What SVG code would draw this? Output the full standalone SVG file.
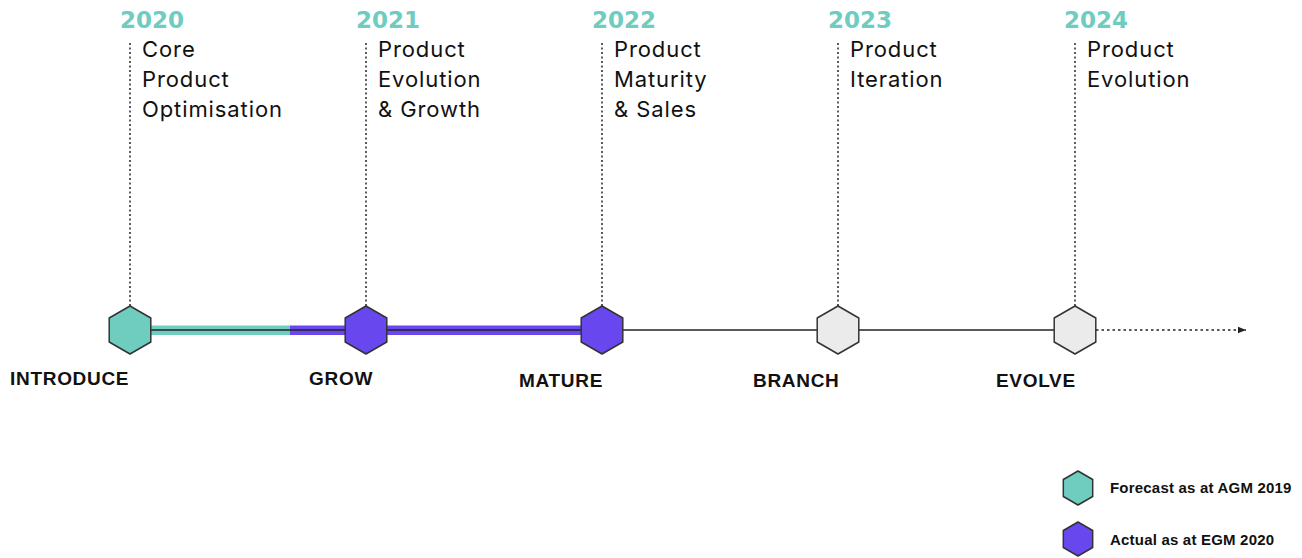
<svg xmlns="http://www.w3.org/2000/svg" width="1302" height="558" viewBox="0 0 1302 558">
<style>
.year{font-family:"DejaVu Sans","Liberation Sans",sans-serif;font-weight:bold;font-size:23px;fill:#6ECDBF}
.desc{font-family:Inter,"Liberation Sans",sans-serif;font-size:22px;fill:#111;letter-spacing:0.9px}
.stage{font-family:"Liberation Sans",Arial,sans-serif;font-weight:bold;font-size:19px;fill:#111;letter-spacing:0.7px}
.leg{font-family:"Liberation Sans",Arial,sans-serif;font-weight:bold;font-size:15px;fill:#111;letter-spacing:0.2px}
.vdot{stroke:#333;stroke-width:1.6;stroke-dasharray:2 2.5;fill:none}
.hex{stroke:#333;stroke-width:1.5;stroke-linejoin:round}
.teal{fill:#6ECDBF}
.purple{fill:#6848EE}
.grey{fill:#EBEBEB}
</style>
<defs>
<polygon id="hx" points="0,-24 20.8,-12 20.8,12 0,24 -20.8,12 -20.8,-12"/>
<polygon id="hxs" points="0,-17 14.7,-8.5 14.7,8.5 0,17 -14.7,8.5 -14.7,-8.5"/>
<marker id="arr" markerWidth="8" markerHeight="8" refX="8" refY="4" orient="auto" markerUnits="userSpaceOnUse">
<path d="M0,0.8 L8,4 L0,7.2 Z" fill="#222"/>
</marker>
</defs>
<g id="connectors">
<rect x="150" y="325.5" width="140" height="9.5" fill="#6ECDBF"/>
<rect x="290" y="325.5" width="292" height="9.5" fill="#6848EE"/>
<line x1="130" y1="330" x2="1075" y2="330" stroke="#222" stroke-width="1.5"/>
<line x1="1096" y1="330" x2="1246" y2="330" stroke="#222" stroke-width="1.6" stroke-dasharray="2.5 3" marker-end="url(#arr)"/>
<line class="vdot" x1="130" y1="43" x2="130" y2="306"/>
<line class="vdot" x1="366" y1="43" x2="366" y2="306"/>
<line class="vdot" x1="602" y1="43" x2="602" y2="306"/>
<line class="vdot" x1="838" y1="43" x2="838" y2="306"/>
<line class="vdot" x1="1075" y1="43" x2="1075" y2="306"/>
</g>
<g id="node-2020">
<text class="year" x="120" y="28">2020</text>
<text class="desc" x="142" y="57">Core</text>
<text class="desc" x="142" y="87">Product</text>
<text class="desc" x="142" y="117">Optimisation</text>
<use href="#hx" x="130" y="330" class="hex teal"/>
<text class="stage" x="10" y="385">INTRODUCE</text>
</g>
<g id="node-2021">
<text class="year" x="356" y="28">2021</text>
<text class="desc" x="378" y="57">Product</text>
<text class="desc" x="378" y="87">Evolution</text>
<text class="desc" x="378" y="117">&amp; Growth</text>
<use href="#hx" x="366" y="330" class="hex purple"/>
<text class="stage" x="309" y="385">GROW</text>
</g>
<g id="node-2022">
<text class="year" x="592" y="28">2022</text>
<text class="desc" x="614" y="57">Product</text>
<text class="desc" x="614" y="87">Maturity</text>
<text class="desc" x="614" y="117">&amp; Sales</text>
<use href="#hx" x="602" y="330" class="hex purple"/>
<text class="stage" x="519" y="387">MATURE</text>
</g>
<g id="node-2023">
<text class="year" x="828" y="28">2023</text>
<text class="desc" x="850" y="57">Product</text>
<text class="desc" x="850" y="87">Iteration</text>
<use href="#hx" x="838" y="330" class="hex grey"/>
<text class="stage" x="753" y="387">BRANCH</text>
</g>
<g id="node-2024">
<text class="year" x="1064" y="28">2024</text>
<text class="desc" x="1087" y="57">Product</text>
<text class="desc" x="1087" y="87">Evolution</text>
<use href="#hx" x="1075" y="330" class="hex grey"/>
<text class="stage" x="996" y="387">EVOLVE</text>
</g>
<g id="legend">
<use href="#hxs" x="1078" y="488" class="hex teal"/>
<text class="leg" x="1110" y="493">Forecast as at AGM 2019</text>
<use href="#hxs" x="1078" y="539" class="hex purple"/>
<text class="leg" x="1110" y="545">Actual as at EGM 2020</text>
</g>
</svg>
